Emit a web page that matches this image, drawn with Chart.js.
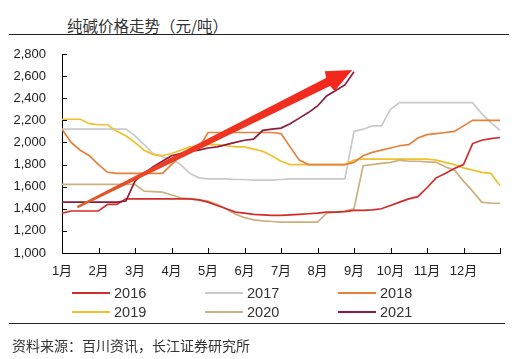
<!DOCTYPE html>
<html>
<head>
<meta charset="utf-8">
<script src="https://cdn.jsdelivr.net/npm/chart.js@4/dist/chart.umd.min.js"></script>
<style>
  html, body { margin: 0; padding: 0; background: #fff; }
  #wrap { position: relative; width: 520px; height: 359px; overflow: hidden;
    font-family: "Noto Sans CJK SC", "Liberation Sans", sans-serif; color: #333; }
  #chart { position: absolute; left: 0; top: 0; }
  .title { position: absolute; left: 67px; top: 14px; font-size: 15.5px; line-height: 22px; color: #333; }
  .rule { position: absolute; left: 9px; width: 500px; height: 1px; background: #222; }
  .source { position: absolute; left: 12px; top: 335px; font-size: 14px; line-height: 20px; color: #333; }
  .legend { position: absolute; left: 0; top: 0; }
  .item { position: absolute; height: 18px; white-space: nowrap; font-family: "Liberation Sans", sans-serif; font-size: 14.5px; line-height: 18px; color: #333; }
  .item i { display: inline-block; width: 38px; height: 2px; vertical-align: middle; margin-right: 4px; position: relative; top: -1px; }
</style>
</head>
<body>
<div id="wrap">
  <div class="title">纯碱价格走势（元/吨）</div>
  <div class="rule" style="top:34px"></div>
  <canvas id="chart" width="520" height="359"></canvas>
  <div class="legend" id="legend"></div>
  <div class="rule" style="top:323px; width:496px"></div>
  <div class="source">资料来源：百川资讯，长江证券研究所</div>
</div>
<script>
// -- Data (weekly readings, x = months since 1 Jan) --
const weeks = Array.from({length: 49}, (_, i) => i / 4)
const monthLabels = ['1月', '2月', '3月', '4月', '5月', '6月', '7月', '8月', '9月', '10月', '11月', '12月']
const yTicks = [1000, 1200, 1400, 1600, 1800, 2000, 2200, 2400, 2600, 2800]

const price2016 = [1360, 1380, 1380, 1380, 1380, 1440, 1440, 1490, 1490, 1490, 1490, 1490, 1490,
  1490, 1490, 1480, 1460, 1430, 1400, 1370, 1360, 1350, 1345, 1340, 1340, 1345, 1350, 1355, 1360,
  1370, 1370, 1375, 1385, 1385, 1390, 1400, 1430, 1460, 1490, 1510, 1590, 1680, 1720, 1765, 1800,
  1990, 2020, 2035, 2045]
const price2017 = [2120, 2120, 2120, 2120, 2120, 2120, 2120, 2120, 2060, 1980, 1900, 1870, 1850,
  1800, 1720, 1680, 1670, 1670, 1670, 1665, 1665, 1660, 1660, 1660, 1665, 1670, 1670, 1670, 1670,
  1670, 1670, 1670, 2100, 2120, 2150, 2150, 2300, 2360, 2360, 2360, 2360, 2360, 2360, 2360, 2360,
  2360, 2260, 2180, 2110]
const price2018 = [2120, 2000, 1930, 1880, 1800, 1730, 1720, 1720, 1720, 1720, 1720, 1720, 1800,
  1880, 1920, 1950, 2090, 2090, 2090, 2090, 2090, 2090, 2090, 2090, 2080, 1960, 1840, 1800, 1800,
  1800, 1800, 1800, 1820, 1880, 1910, 1930, 1950, 1970, 1980, 2040, 2070, 2080, 2090, 2100, 2150,
  2200, 2200, 2200, 2200]
const price2019 = [2210, 2210, 2210, 2170, 2160, 2160, 2100, 2060, 2000, 1930, 1890, 1880, 1900,
  1930, 1960, 1970, 1980, 1980, 1970, 1960, 1960, 1940, 1920, 1880, 1830, 1800, 1800, 1800, 1800,
  1800, 1800, 1800, 1840, 1850, 1850, 1850, 1850, 1850, 1850, 1850, 1850, 1840, 1820, 1800, 1770,
  1750, 1730, 1720, 1610]
const price2020 = [1620, 1620, 1620, 1620, 1620, 1620, 1620, 1620, 1620, 1560, 1555, 1550, 1525,
  1500, 1490, 1480, 1470, 1440, 1400, 1350, 1320, 1300, 1290, 1285, 1280, 1280, 1280, 1280, 1280,
  1360, 1370, 1380, 1400, 1790, 1800, 1810, 1820, 1840, 1830, 1830, 1825, 1820, 1780, 1750, 1650,
  1560, 1460, 1450, 1450]
const price2021 = [1460, 1460, 1460, 1460, 1460, 1460, 1460, 1470, 1650, 1720, 1780, 1830, 1880,
  1900, 1920, 1930, 1950, 1960, 1980, 2000, 2020, 2030, 2110, 2120, 2130, 2170, 2220, 2270, 2330,
  2420, 2470, 2520, 2640, null, null, null, null, null, null, null, null, null, null, null, null,
  null, null, null, null]

// red trend arrow drawn over the lines, in (month, price)
const arrowStart = [0.42, 1415]
const arrowEnd = [7.95, 2655]

const series = [
  {label: '2016', data: price2016, color: '#D22B2B', order: 1},
  {label: '2017', data: price2017, color: '#C9C9C9', order: 5},
  {label: '2018', data: price2018, color: '#E5813A', order: 3},
  {label: '2019', data: price2019, color: '#F0C12A', order: 4},
  {label: '2020', data: price2020, color: '#CDB07E', order: 2},
  {label: '2021', data: price2021, color: '#8C1C3E', order: 0},
]

// -- Legend (3 columns, 2 rows) --
let legendPos = [[72, 284], [205, 284], [338, 284], [72, 303], [205, 303], [338, 303]]
let legend = document.getElementById('legend')
series.forEach((s, i) => {
  let d = document.createElement('div')
  d.className = 'item'
  d.style.left = legendPos[i][0] + 'px'
  d.style.top = legendPos[i][1] + 'px'
  d.innerHTML = `<i style="background:${s.color}"></i>${s.label}`
  legend.appendChild(d)
})

// -- Plugins --
let innerTicks = {
  id: 'innerTicks',
  afterDraw(chart) {
    let {ctx, chartArea, scales} = chart
    ctx.save()
    ctx.strokeStyle = '#000'
    ctx.lineWidth = 1
    ctx.beginPath()
    for (let v of yTicks) {
      let y = Math.round(scales.y.getPixelForValue(v)) + 0.5
      ctx.moveTo(chartArea.left, y)
      ctx.lineTo(chartArea.left + 5, y)
    }
    for (let m = 1; m <= 12; m++) {
      let x = Math.round(scales.x.getPixelForValue(m)) + 0.5
      ctx.moveTo(x, chartArea.bottom)
      ctx.lineTo(x, chartArea.bottom - 5)
    }
    ctx.stroke()
    ctx.restore()
  }
}

let trendArrow = {
  id: 'trendArrow',
  afterDatasetsDraw(chart) {
    let {ctx, scales} = chart
    let x0 = scales.x.getPixelForValue(arrowStart[0]), y0 = scales.y.getPixelForValue(arrowStart[1])
    let x1 = scales.x.getPixelForValue(arrowEnd[0]), y1 = scales.y.getPixelForValue(arrowEnd[1])
    let ang = Math.atan2(y1 - y0, x1 - x0)
    let len = Math.hypot(x1 - x0, y1 - y0)
    let headLen = 27, headHalf = 11
    ctx.save()
    ctx.translate(x0, y0)
    ctx.rotate(ang)
    let g = ctx.createLinearGradient(0, 0, len, 0)
    g.addColorStop(0, '#D8642C')
    g.addColorStop(0.35, '#EE3A22')
    g.addColorStop(1, '#F2261C')
    ctx.fillStyle = g
    ctx.beginPath()
    ctx.moveTo(0, -1.2)
    ctx.lineTo(len - headLen, -4.5)
    ctx.lineTo(len - headLen + 2, -headHalf)
    ctx.lineTo(len, 0)
    ctx.lineTo(len - headLen + 2, headHalf)
    ctx.lineTo(len - headLen, 4.5)
    ctx.lineTo(0, 1.2)
    ctx.closePath()
    ctx.fill()
    ctx.restore()
  }
}

// -- Chart --
let tickFont = {family: "'Liberation Sans', 'Noto Sans CJK SC', sans-serif", size: 13}

new Chart(document.getElementById('chart'), {
  type: 'line',
  data: {
    labels: weeks,
    datasets: series.map(s => ({
      label: s.label,
      data: s.data,
      borderColor: s.color,
      backgroundColor: s.color,
      borderWidth: 1.7,
      pointRadius: 0,
      tension: 0,
      spanGaps: false,
      order: s.order,
    }))
  },
  options: {
    responsive: false,
    animation: false,
    events: [],
    layout: {padding: {left: 0, top: 54, right: 20, bottom: 76}},
    plugins: {legend: {display: false}, tooltip: {enabled: false}, title: {display: false}},
    scales: {
      x: {
        type: 'linear',
        min: 0,
        max: 12,
        afterFit: s => { s.height = 30 },
        ticks: {
          stepSize: 1,
          autoSkip: false,
          maxRotation: 0,
          padding: 11,
          color: '#222',
          font: tickFont,
          callback: v => monthLabels[v] || '',
        },
        grid: {display: false, drawTicks: false},
        border: {display: true, color: '#000', width: 1},
      },
      y: {
        min: 1000,
        max: 2800,
        afterFit: s => { s.width = 62 },
        afterBuildTicks: s => { s.ticks = yTicks.map(v => ({value: v})) },
        ticks: {
          padding: 16,
          color: '#222',
          font: tickFont,
          callback: v => v.toLocaleString('en-US'),
        },
        grid: {display: false, drawTicks: false},
        border: {display: true, color: '#000', width: 1},
      }
    }
  },
  plugins: [innerTicks, trendArrow]
})
</script>
</body>
</html>
